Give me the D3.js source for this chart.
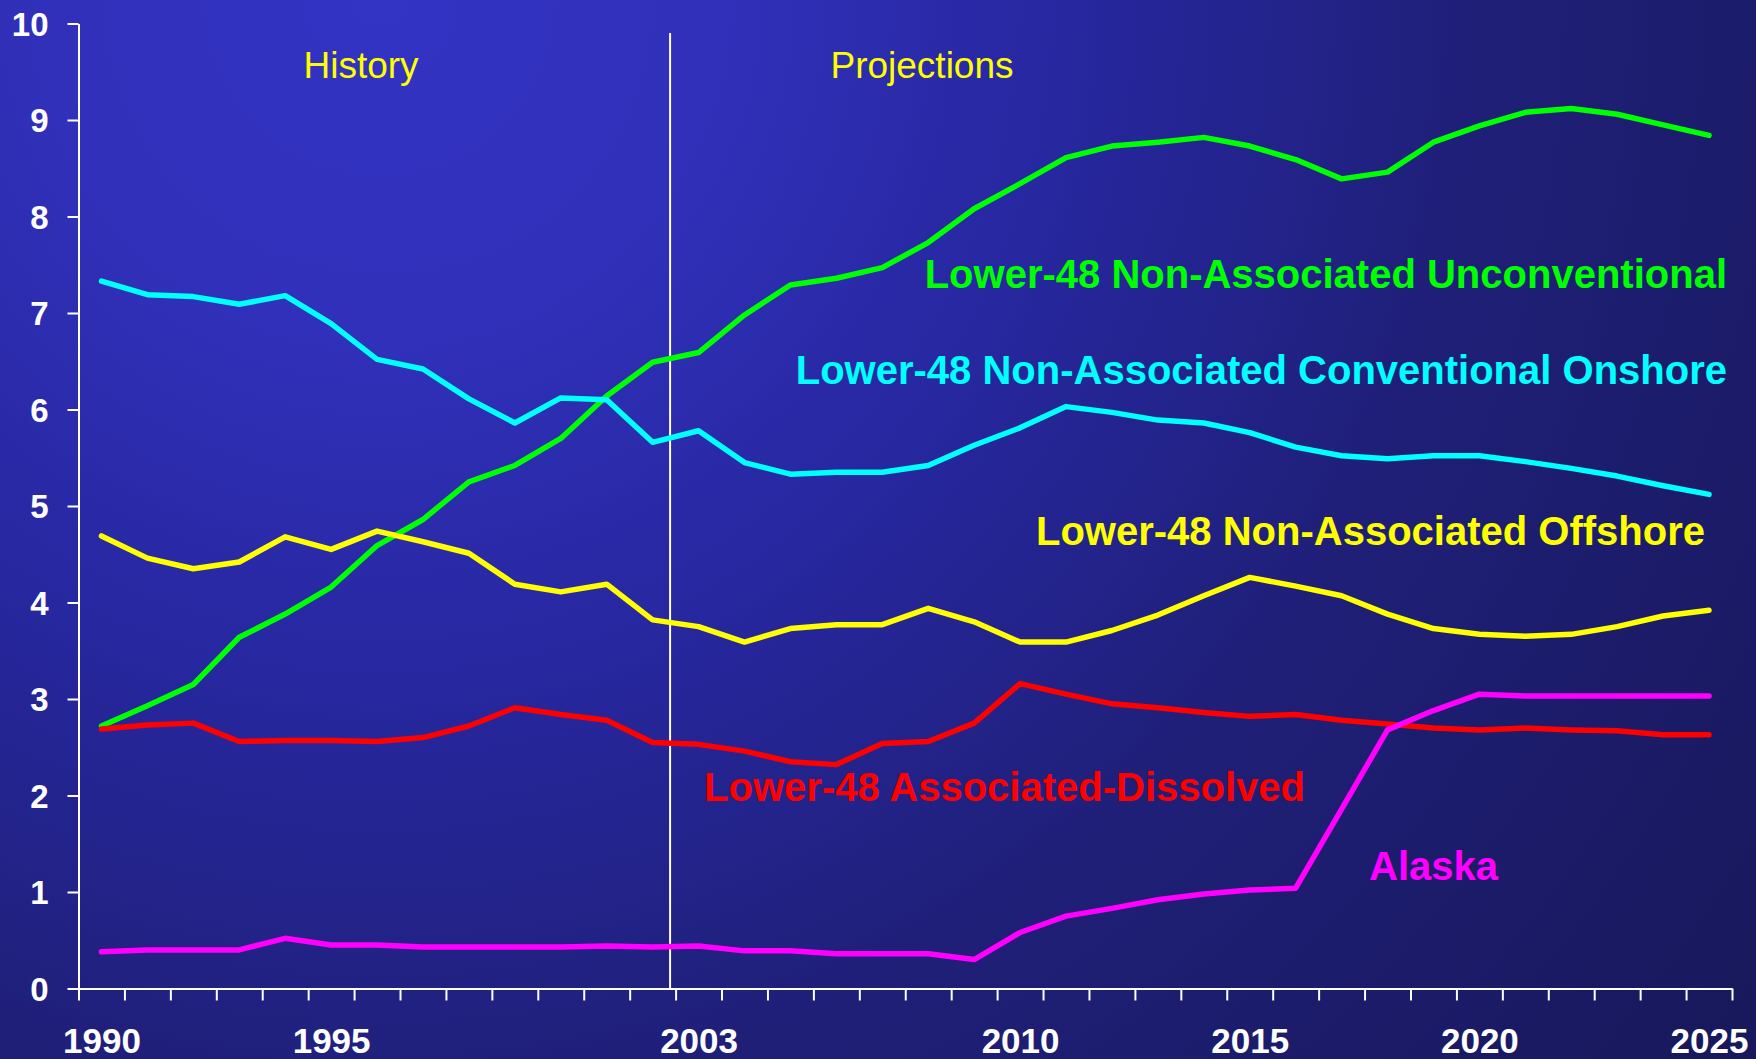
<!DOCTYPE html>
<html>
<head>
<meta charset="utf-8">
<script src="https://cdn.jsdelivr.net/npm/d3@7"></script>
<style>
  html, body { margin: 0; padding: 0; overflow: hidden; background: #1c1c6c; }
  svg { display: block; }
</style>
</head>
<body>
<svg id="chart" width="1756" height="1059"></svg>
<script>
// ---- data ----
const years = d3.range(1990, 2026);
const unconventional = [2.72,2.93,3.15,3.64,3.88,4.16,4.59,4.86,5.25,5.42,
  5.70,6.14,6.49,6.59,6.98,7.29,7.36,7.47,7.73,8.08,
  8.34,8.61,8.73,8.77,8.82,8.73,8.59,8.39,8.46,8.77,
  8.94,9.08,9.12,9.06,8.95,8.84];
const conventionalOnshore = [7.33,7.19,7.17,7.09,7.18,6.89,6.52,6.42,6.11,5.86,
  6.12,6.10,5.66,5.78,5.45,5.33,5.35,5.35,5.42,5.63,
  5.81,6.03,5.97,5.89,5.86,5.76,5.61,5.52,5.49,5.52,
  5.52,5.46,5.39,5.31,5.21,5.12];
const offshore = [4.69,4.46,4.35,4.42,4.68,4.55,4.74,4.63,4.51,4.19,
  4.11,4.19,3.82,3.75,3.59,3.73,3.77,3.77,3.94,3.80,
  3.59,3.59,3.71,3.87,4.07,4.26,4.17,4.07,3.88,3.73,
  3.67,3.65,3.67,3.75,3.86,3.92];
const associatedDissolved = [2.69,2.73,2.75,2.56,2.57,2.57,2.56,2.60,2.72,2.91,
  2.84,2.78,2.55,2.53,2.46,2.35,2.32,2.54,2.56,2.75,
  3.16,3.05,2.95,2.91,2.86,2.82,2.84,2.78,2.74,2.70,
  2.68,2.70,2.68,2.67,2.63,2.63];
const alaska = [0.38,0.40,0.40,0.40,0.52,0.45,0.45,0.43,0.43,0.43,
  0.43,0.44,0.43,0.44,0.39,0.39,0.36,0.36,0.36,0.30,
  0.58,0.75,0.83,0.92,0.98,1.02,1.04,1.86,2.68,2.88,
  3.05,3.03,3.03,3.03,3.03,3.03];
const xTickLabels = [1990, 1995, 2003, 2010, 2015, 2020, 2025];
const yTickValues = [0,1,2,3,4,5,6,7,8,9,10];
const seriesNames = ["Lower-48 Non-Associated Unconventional",
  "Lower-48 Non-Associated Conventional Onshore",
  "Lower-48 Non-Associated Offshore",
  "Lower-48 Associated-Dissolved",
  "Alaska"];
const dividerYear = 2002.38;
const periodLabels = ["History", "Projections"];

// ---- styling / layout ----
const colors = ["#00ff00", "#00ffff", "#ffff00", "#ff0000", "#ff00ff"];
const seriesData = [unconventional, conventionalOnshore, offshore, associatedDissolved, alaska];
const labelPos = [
  {x: 1727, y: 288},
  {x: 1727, y: 384},
  {x: 1705, y: 545},
  {x: 1305, y: 801},
  {x: 1498, y: 880}
];
const FONT = "'Liberation Sans', Arial, Helvetica, sans-serif";

const svg = d3.select("#chart");
const W = 1756, H = 1059;

// background gradient
const defs = svg.append("defs");
const grad = defs.append("radialGradient")
  .attr("id", "bg").attr("gradientUnits", "userSpaceOnUse")
  .attr("cx", 380).attr("cy", 0).attr("r", 1700);
[[0, "#3333c4"], [0.2, "#3030ba"], [0.4, "#2727a0"], [0.65, "#1f1f78"], [1, "#18185c"]]
  .forEach(([o, c]) => grad.append("stop").attr("offset", o).attr("stop-color", c));
svg.append("rect").attr("width", W).attr("height", H).attr("fill", "url(#bg)");

const x = d3.scaleLinear().domain([1989.5, 2025.5]).range([78.5, 1732]);
const y = d3.scaleLinear().domain([0, 10]).range([988.5, 23.5]);

// y axis
const yAxis = svg.append("g").attr("transform", `translate(${x(1989.5)},0)`)
  .call(d3.axisLeft(y).tickValues(yTickValues).tickSize(11).tickSizeOuter(0).tickPadding(19)
    .tickFormat(d3.format("d")));
yAxis.select(".domain").attr("stroke", "#ffffff").attr("stroke-width", 2);
yAxis.selectAll(".tick line").attr("stroke", "#ffffff").attr("stroke-width", 2);
yAxis.selectAll(".tick text").attr("fill", "#ffffff").attr("font-family", FONT)
  .attr("font-weight", "bold").attr("font-size", 33).attr("dy", "0.36em");

// x axis (boundary ticks)
const xAxis = svg.append("g").attr("transform", `translate(0,${y(0)})`)
  .call(d3.axisBottom(x).tickValues(d3.range(1989.5, 2026, 1)).tickSize(12).tickSizeOuter(0)
    .tickFormat(""));
xAxis.select(".domain").attr("stroke", "#ffffff").attr("stroke-width", 2);
xAxis.selectAll(".tick line").attr("stroke", "#ffffff").attr("stroke-width", 2);

// x axis labels
const xLab = svg.append("g").attr("transform", `translate(0,${y(0)})`)
  .call(d3.axisBottom(x).tickValues(xTickLabels).tickSize(0).tickPadding(40)
    .tickFormat(d3.format("d")));
xLab.select(".domain").remove();
xLab.selectAll(".tick text").attr("fill", "#ffffff").attr("font-family", FONT)
  .attr("font-weight", "bold").attr("font-size", 35);

// divider line
svg.append("line")
  .attr("x1", x(dividerYear)).attr("x2", x(dividerYear))
  .attr("y1", 33).attr("y2", y(0))
  .attr("stroke", "#ffffff").attr("stroke-width", 2);

// period labels
svg.append("text").text(periodLabels[0]).attr("x", 361).attr("y", 78)
  .attr("text-anchor", "middle").attr("fill", "#ffff00")
  .attr("font-family", FONT).attr("font-size", 37);
svg.append("text").text(periodLabels[1]).attr("x", 922).attr("y", 78)
  .attr("text-anchor", "middle").attr("fill", "#ffff00")
  .attr("font-family", FONT).attr("font-size", 37);

// lines
const line = d3.line().x((d, i) => x(years[i])).y(d => y(d));
seriesData.forEach((s, k) => {
  svg.append("path").datum(s).attr("d", line)
    .attr("fill", "none").attr("stroke", colors[k]).attr("stroke-width", 5.5)
    .attr("stroke-linejoin", "round").attr("stroke-linecap", "round");
});

// series labels
seriesNames.forEach((n, k) => {
  svg.append("text").text(n).attr("x", labelPos[k].x).attr("y", labelPos[k].y)
    .attr("text-anchor", "end").attr("fill", colors[k])
    .attr("font-family", FONT).attr("font-weight", "bold").attr("font-size", 40);
});
</script>
</body>
</html>
